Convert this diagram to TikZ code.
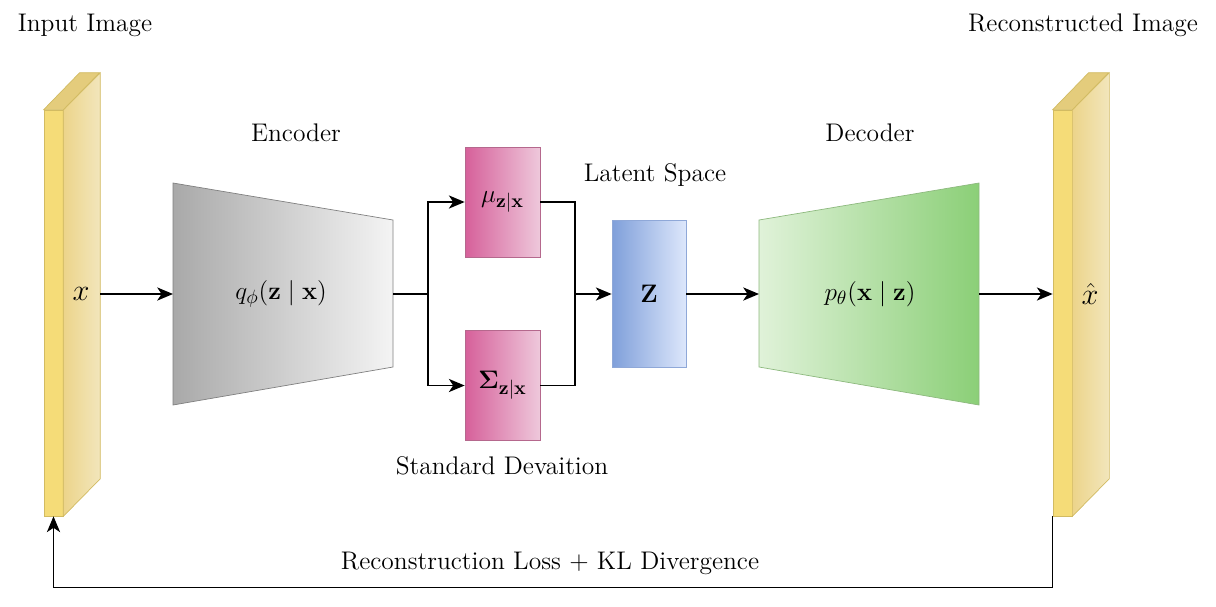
\documentclass[tikz,border=0pt]{standalone}
\usepackage{amsmath,amssymb,bm}
\usetikzlibrary{arrows.meta}

\definecolor{barfront}{HTML}{F5DC78}
\definecolor{barside}{HTML}{ECD48A}
\definecolor{barsidelt}{HTML}{F2E6BC}
\definecolor{bartop}{HTML}{E4CC7C}
\definecolor{baredge}{HTML}{D2BB62}
\definecolor{encdark}{HTML}{A9A9A9}
\definecolor{enclight}{HTML}{F4F4F4}
\definecolor{pinkdark}{HTML}{D6609A}
\definecolor{pinklight}{HTML}{EEC8DB}
\definecolor{pinkedge}{HTML}{B5688D}
\definecolor{bluedark}{HTML}{7F9FDA}
\definecolor{bluelight}{HTML}{DDE7FB}
\definecolor{blueedge}{HTML}{8FA8D8}
\definecolor{greenlight}{HTML}{E0F2D9}
\definecolor{greendark}{HTML}{8BCF77}
\definecolor{greenedge}{HTML}{8DB97E}

\tikzset{
  lbl/.style={font=\fontsize{14.5}{17}\selectfont},
  mth/.style={font=\fontsize{15}{17}\selectfont},
  big/.style={font=\fontsize{19}{21}\selectfont},
  wire/.style={line width=0.9pt},
  flow/.style={wire, -{Stealth[length=9pt,width=7.5pt,inset=2.5pt]}},
  barface/.style={draw=baredge, fill=barfront, minimum width=0.38cm, minimum height=8.12cm, inner sep=0pt},
  pinkbox/.style={draw=pinkedge, left color=pinkdark, right color=pinklight, minimum width=1.5cm, minimum height=2.2cm, inner sep=0pt, mth},
}

\begin{document}
\begin{tikzpicture}[x=0.02cm, y=-0.02cm]
  \useasboundingbox (0,0) rectangle (1216,606);

  % input image bar
  \node[barface] (inbar) at (53.5,313) {};
  \draw[baredge, left color=barside, right color=barsidelt] (inbar.north east) -- ++(37,-37) -- ++(0,406) -- (inbar.south east) -- cycle;
  \draw[baredge, fill=bartop] (inbar.north west) -- ++(36,-37) -- ++(20,0) -- (inbar.north east) -- cycle;
  \node[big] (xin) at (81,294) {$x$};
  \coordinate (inR) at (100,294);
  \node[lbl] (intitle) at (85,25) {Input Image};

  % output image bar
  \node[barface] (outbar) at (1062.5,313) {};
  \draw[baredge, left color=barside, right color=barsidelt] (outbar.north east) -- ++(37,-37) -- ++(0,406) -- (outbar.south east) -- cycle;
  \draw[baredge, fill=bartop] (outbar.north west) -- ++(36,-37) -- ++(20,0) -- (outbar.north east) -- cycle;
  \node[big] (xout) at (1090,294) {$\hat{x}$};
  \node[lbl] (outtitle) at (1083,25) {Reconstructed Image};

  % encoder
  \draw[draw=gray, left color=encdark, right color=enclight] (173,183) -- (393,220) -- (393,367) -- (173,405) -- cycle;
  \coordinate (encL) at (173,294);
  \coordinate (encR) at (393,294);
  \node[mth] (enc) at (281,294) {$q_{\phi}(\mathbf{z}\mid\mathbf{x})$};
  \node[lbl] (enctitle) at (296,133) {Encoder};

  % mean and deviation
  \node[pinkbox] (mu) at (502.5,202) {$\mu_{\mathbf{z}|\mathbf{x}}$};
  \node[pinkbox] (sigma) at (502.5,385.5) {$\boldsymbol{\Sigma}_{\mathbf{z}|\mathbf{x}}$};
  \node[lbl] (sdtitle) at (502,466) {Standard Devaition};

  % latent
  \node[draw=blueedge, left color=bluedark, right color=bluelight, minimum width=1.48cm, minimum height=2.94cm, inner sep=0pt, mth] (z) at (649,294) {$\mathbf{Z}$};
  \node[lbl] (lattitle) at (655,175) {Latent Space};

  % decoder
  \draw[draw=greenedge, left color=greenlight, right color=greendark] (759,220) -- (979,183) -- (979,405) -- (759,367) -- cycle;
  \coordinate (decL) at (759,294);
  \coordinate (decR) at (979,294);
  \node[mth] (dec) at (870,294) {$p_{\theta}(\mathbf{x}\mid\mathbf{z})$};
  \node[lbl] (dectitle) at (870,133) {Decoder};

  % connections
  \coordinate (split) at (428,294);
  \coordinate (join) at (575,294);
  \draw[flow] (inR) -- (encL);
  \draw[wire] (encR) -- (split);
  \draw[flow] (split) |- (mu.west);
  \draw[flow] (split) |- (sigma.west);
  \draw[wire] (mu.east) -| (join);
  \draw[wire] (sigma.east) -| (join);
  \draw[flow] (join) -- (z.west);
  \draw[flow] (z.east) -- (decL);
  \draw[flow] (decR) -- (outbar.west |- decR);

  % loss feedback
  \draw[flow] (outbar.south west) -- ++(0,71) coordinate (fb) -| (inbar.south);
  \node[lbl] (loss) at (550,563) {Reconstruction Loss + KL Divergence};
\end{tikzpicture}
\end{document}
